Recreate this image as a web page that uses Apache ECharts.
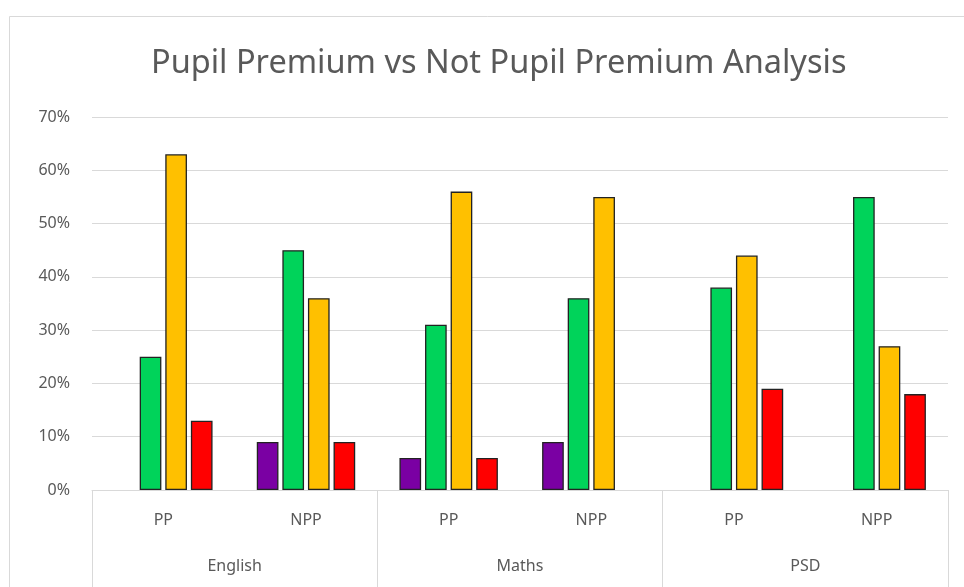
<!DOCTYPE html>
<html>
<head>
<meta charset="utf-8">
<script src="https://cdn.jsdelivr.net/npm/echarts@6/dist/echarts.min.js"></script>
<style>
  html, body { margin: 0; padding: 0; background: #fff; }
  #main { width: 964px; height: 587px; }
</style>
</head>
<body>
<div id="main"></div>
<script>
// categories (inner level + outer level)
const groups = ['PP', 'NPP', 'PP', 'NPP', 'PP', 'NPP']
const subjects = ['English', 'Maths', 'PSD']
const yTicks = [0, 10, 20, 30, 40, 50, 60, 70]

// series values in %, null = no bar
const purpleData = [null, 9, 6, 9, null, null]
const greenData = [25, 45, 31, 36, 38, 55]
const orangeData = [63, 36, 56, 55, 44, 27]
const redData = [13, 9, 6, null, 19, 18]

const chartDom = document.getElementById('main')
const myChart = echarts.init(chartDom)
const font = '"Noto Sans", "Open Sans", sans-serif'
const labelColor = '#595959'
const lineColor = '#d9d9d9'

function barSeries (name, color, data) {
  return {
    name: name,
    type: 'bar',
    xAxisIndex: 0,
    barGap: '18%',
    barCategoryGap: '31%',
    itemStyle: {
      color: color,
      borderColor: '#222',
      borderWidth: 1.3
    },
    data: data
  }
}

const option = {
  animation: false,
  backgroundColor: '#fff',
  title: {
    text: 'Pupil Premium vs Not Pupil Premium Analysis',
    left: 146,
    top: 42,
    textStyle: {
      fontFamily: font,
      fontWeight: 'normal',
      fontSize: 32.5,
      color: labelColor
    }
  },
  graphic: [{
    // outer chart frame
    type: 'rect',
    shape: { x: 9.5, y: 16.5, width: 980, height: 600 },
    style: { fill: 'none', stroke: lineColor, lineWidth: 1 },
    silent: true
  }],
  grid: { left: 92, right: 16, top: 117, bottom: 97 },
  xAxis: [
    {
      type: 'category',
      data: groups,
      axisTick: { show: false },
      axisLine: { lineStyle: { color: lineColor, width: 1 } },
      axisLabel: {
        margin: 22,
        fontFamily: font,
        fontSize: 16,
        color: labelColor
      }
    },
    {
      type: 'category',
      data: subjects,
      position: 'bottom',
      axisLine: { show: false },
      axisTick: {
        show: true,
        length: 100,
        lineStyle: { color: lineColor, width: 1 }
      },
      axisLabel: {
        margin: 68,
        fontFamily: font,
        fontSize: 16,
        color: labelColor
      }
    }
  ],
  yAxis: {
    type: 'value',
    min: yTicks[0],
    max: yTicks[yTicks.length - 1],
    interval: 10,
    axisLine: { show: false },
    axisTick: { show: false },
    splitLine: { lineStyle: { color: lineColor, width: 1 } },
    axisLabel: {
      formatter: '{value}%',
      margin: 22,
      fontFamily: font,
      fontSize: 16,
      color: labelColor
    }
  },
  series: [
    barSeries('Purple', '#7a00a3', purpleData),
    barSeries('Green', '#00d35a', greenData),
    barSeries('Orange', '#ffc000', orangeData),
    barSeries('Red', '#ff0000', redData)
  ]
}

option && myChart.setOption(option)
</script>
</body>
</html>
